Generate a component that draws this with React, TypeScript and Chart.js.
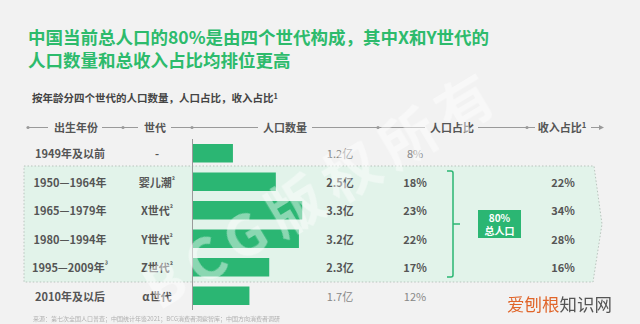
import React, { useEffect, useRef } from "react";
import { Chart, registerables } from "chart.js";

Chart.register(...registerables);

const title1 = "中国当前总人口的80%是由四个世代构成，其中X和Y世代的";
const title2 = "人口数量和总收入占比均排位更高";
const subtitle = "按年龄分四个世代的人口数量，人口占比，收入占比";
const headers = ["出生年份", "世代", "人口数量", "人口占比", "收入占比"];
const birthYears = ["1949年及以前", "1950—1964年", "1965—1979年", "1980—1994年", "1995—2009年", "2010年及以后"];
const yearSup = ["", "", "", "", "³", ""];
const generations = ["-", "婴儿潮", "X世代", "Y世代", "Z世代", "α世代"];
const genSup = ["", "²", "²", "²", "²", ""];
const population = [1.2, 2.5, 3.3, 3.2, 2.3, 1.7];
const popShare = [8, 18, 23, 22, 17, 12];
const incomeShare: (number | null)[] = [null, 22, 34, 28, 16, null];
const highlighted = [false, true, true, true, true, false];
const groupShare = 80;

const GREEN = "#2bb673";
const FONT = "'Noto Sans CJK SC', 'Noto Sans', sans-serif";
const ROW_TOP = 139;
const ROW_H = 28.5;
const rowY = (i: number) => ROW_TOP + ROW_H * (i + 0.5);

const axisLine = {
  id: "axisLine",
  afterDatasetsDraw(chart: any) {
    const { ctx, chartArea } = chart;
    const x = Math.round(chart.scales.x.getPixelForValue(0)) - 0.5;
    ctx.save();
    ctx.strokeStyle = "#9a9a9a";
    ctx.lineWidth = 1;
    ctx.beginPath();
    ctx.moveTo(x, chartArea.top - 1);
    ctx.lineTo(x, chartArea.bottom);
    ctx.stroke();
    ctx.restore();
  },
};

function Txt(props: { x: number; y: number; children: any; style?: any; align?: string }) {
  const tx = props.align === "left" ? "0" : "-50%";
  return (
    <div
      style={{
        position: "absolute",
        left: props.x,
        top: props.y,
        width: "max-content",
        transform: `translate(${tx}, -50%)`,
        whiteSpace: "nowrap",
        fontFamily: FONT,
        lineHeight: 1,
        ...props.style,
      }}
    >
      {props.children}
    </div>
  );
}

const supStyle = { fontSize: "0.7em", verticalAlign: "0.45em" };

export default function App() {
  const ref = useRef<HTMLCanvasElement | null>(null);

  useEffect(() => {
    if (!ref.current) return;
    const chart = new Chart(ref.current, {
      type: "bar",
      data: {
        labels: generations,
        datasets: [
          {
            data: population,
            backgroundColor: GREEN,
            borderWidth: 0,
            barThickness: 18,
          },
        ],
      },
      options: {
        indexAxis: "y",
        responsive: false,
        animation: false,
        layout: { padding: { left: 3, right: 0, top: 0, bottom: 0 } },
        plugins: { legend: { display: false }, tooltip: { enabled: false } },
        scales: {
          x: { display: false, min: 0, max: 4 },
          y: { display: false },
        },
      },
      plugins: [axisLine],
    });
    return () => chart.destroy();
  }, []);

  const headStyle = { fontSize: 11, fontWeight: 700, color: "#555" };
  const hx = [76, 155, 285, 452, 562];

  return (
    <div
      style={{
        position: "fixed",
        left: 0,
        top: 0,
        width: 640,
        height: 324,
        background: "#f2f2f2",
        overflow: "hidden",
      }}
    >
      <svg width={640} height={324} style={{ position: "absolute", left: 0, top: 0 }}>
        <polygon
          points="24,166 594,166 602,224 593,282 24,282"
          fill="#e2f3ea"
          stroke="#b9c4bd"
          strokeWidth={1}
          strokeDasharray="1.5,2"
        />
        <g stroke="#9a9a9a" strokeWidth={1}>
          <line x1={28} y1={127.5} x2={48} y2={127.5} />
          <line x1={102} y1={127.5} x2={138} y2={127.5} />
          <line x1={171} y1={127.5} x2={258} y2={127.5} />
          <line x1={312} y1={127.5} x2={425} y2={127.5} />
          <line x1={478} y1={127.5} x2={535} y2={127.5} />
          <line x1={591} y1={127.5} x2={602} y2={127.5} />
        </g>
        <g fill="#9a9a9a">
          <circle cx={28} cy={127.5} r={1.6} />
          <circle cx={123} cy={127.5} r={1.6} />
          <circle cx={192} cy={127.5} r={1.6} />
          <circle cx={378} cy={127.5} r={1.6} />
          <circle cx={527} cy={127.5} r={1.6} />
          <polygon points="604,127.5 599,125 599,130" />
        </g>
        <path
          d="M447,171 L451,171 Q453,171 453,173 L453,275 Q453,277 451,277 L447,277 M453,224 L460,224"
          fill="none"
          stroke={GREEN}
          strokeWidth={1.5}
        />
        <rect x={478} y={210} width={43} height={28} fill={GREEN} />
      </svg>

      <Txt x={28} y={37} align="left" style={{ fontSize: 17.5, fontWeight: 700, color: "#2dbb6c" }}>
        {title1}
      </Txt>
      <Txt x={28} y={60} align="left" style={{ fontSize: 17.5, fontWeight: 700, color: "#2dbb6c" }}>
        {title2}
      </Txt>
      <Txt x={32} y={98} align="left" style={{ fontSize: 10.5, fontWeight: 700, color: "#444" }}>
        {subtitle}
        <span style={supStyle}>1</span>
      </Txt>

      {headers.map((h, i) => (
        <Txt key={h} x={hx[i]} y={127} style={headStyle}>
          {h}
          {i === 4 ? <span style={supStyle}>1</span> : null}
        </Txt>
      ))}

      <canvas
        ref={ref}
        width={135}
        height={171}
        style={{ position: "absolute", left: 190, top: ROW_TOP, width: 135, height: 171 }}
      />

      {birthYears.map((b, i) => {
        const strong = highlighted[i];
        const valStyle = strong
          ? { fontSize: 11, fontWeight: 700, color: "#555" }
          : { fontSize: 11, fontWeight: 400, color: "#888" };
        return (
          <React.Fragment key={b}>
            <Txt x={70} y={rowY(i)} style={{ fontSize: 11, fontWeight: 700, color: "#555" }}>
              {b}
              {yearSup[i] ? <span style={supStyle}>{yearSup[i]}</span> : null}
            </Txt>
            <Txt x={157} y={rowY(i)} style={{ fontSize: 11, fontWeight: 700, color: "#555" }}>
              {generations[i]}
              {genSup[i] ? <span style={supStyle}>{genSup[i]}</span> : null}
            </Txt>
            <Txt x={340} y={rowY(i)} style={valStyle}>
              {population[i]}亿
            </Txt>
            <Txt x={415} y={rowY(i)} style={valStyle}>
              {popShare[i]}%
            </Txt>
            {incomeShare[i] !== null ? (
              <Txt x={563} y={rowY(i)} style={{ fontSize: 11, fontWeight: 700, color: "#555" }}>
                {incomeShare[i]}%
              </Txt>
            ) : null}
          </React.Fragment>
        );
      })}

      <Txt x={499.5} y={217.5} style={{ fontSize: 10, fontWeight: 700, color: "#fff" }}>
        {groupShare}%
      </Txt>
      <Txt x={499.5} y={231} style={{ fontSize: 10, fontWeight: 700, color: "#fff" }}>
        总人口
      </Txt>

      <div
        style={{
          position: "absolute",
          left: 321,
          top: 186,
          width: "max-content",
          transform: "translate(-50%, -50%) rotate(-31deg)",
          fontFamily: FONT,
          fontSize: 56,
          fontWeight: 700,
          letterSpacing: 10,
          color: "rgba(255,255,255,0.45)",
          whiteSpace: "nowrap",
          pointerEvents: "none",
          lineHeight: 1,
        }}
      >
        BCG版权所有
      </div>

      <Txt x={33} y={319} align="left" style={{ fontSize: 6, color: "#b0b0b0" }}>
        来源：第七次全国人口普查；中国统计年鉴2021；BCG消费者洞察智库；中国方向消费者调研
      </Txt>

      <Txt x={507} y={304} align="left" style={{ fontSize: 17.5, fontWeight: 400, color: "#555" }}>
        <span style={{ color: "#e0652a" }}>爱刨根</span>知识网
      </Txt>
    </div>
  );
}
